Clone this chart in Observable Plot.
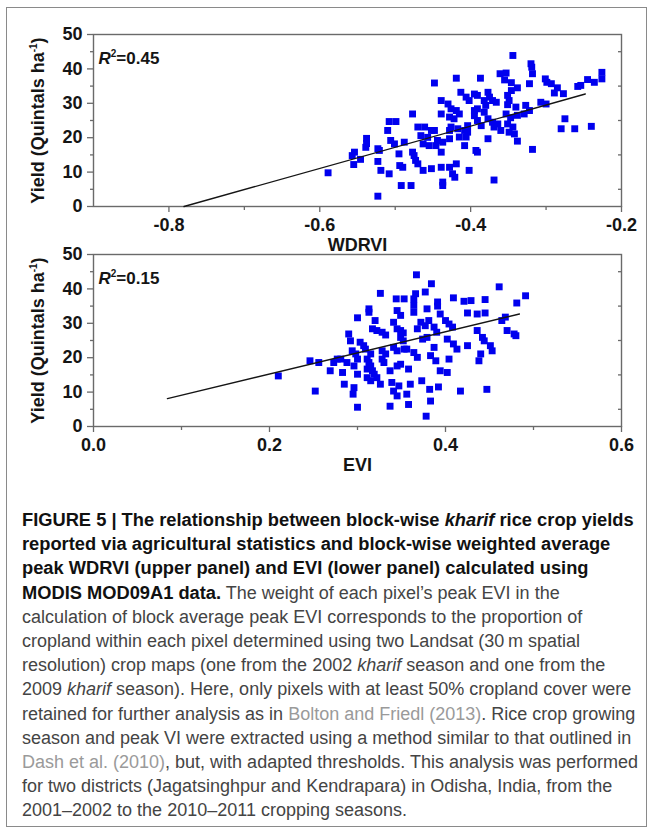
<!DOCTYPE html>
<html>
<head>
<meta charset="utf-8">
<script src="https://cdn.jsdelivr.net/npm/d3@7"></script>
<script src="https://cdn.jsdelivr.net/npm/@observablehq/plot@0.6"></script>
<style>
  html, body { margin: 0; padding: 0; background: #fff; }
  #page { position: relative; width: 655px; height: 833px; overflow: hidden; }
  #frame { position: absolute; left: 6px; top: 7px; width: 641px; height: 820px; border: 1.5px solid #8a8a8a; box-sizing: border-box; }
  .panel { position: absolute; left: 0; }
  #p1 { top: 0; }
  #p2 { top: 220px; }
  #cap { position: absolute; left: 22px; top: 508px; font-family: "Liberation Sans", Arial, sans-serif; font-size: 18px; line-height: 24.2px; color: #444; white-space: nowrap; }
  #cap b { color: #111; font-size: 18.3px; }
  #cap .lk { color: #9a9a9a; }
</style>
</head>
<body>
<div id="page">
  <div id="frame"></div>
  <div id="p1" class="panel"></div>
  <div id="p2" class="panel"></div>
  <div id="cap"><b>FIGURE 5 | The relationship between block-wise <i>kharif</i> rice crop yields<br>reported via agricultural statistics and block-wise weighted average<br>peak WDRVI (upper panel) and EVI (lower panel) calculated using<br>MODIS MOD09A1 data.</b> The weight of each pixel’s peak EVI in the<br>calculation of block average peak EVI corresponds to the proportion of<br>cropland within each pixel determined using two Landsat (30&#8201;m spatial<br>resolution) crop maps (one from the 2002 <i>kharif</i> season and one from the<br>2009 <i>kharif</i> season). Here, only pixels with at least 50% cropland cover were<br>retained for further analysis as in <span class="lk">Bolton and Friedl (2013)</span>. Rice crop growing<br>season and peak VI were extracted using a method similar to that outlined in<br><span class="lk">Dash et al. (2010)</span>, but, with adapted thresholds. This analysis was performed<br>for two districts (Jagatsinghpur and Kendrapara) in Odisha, India, from the<br>2001–2002 to the 2010–2011 cropping seasons.</div>
</div>
<script>
// ---- Upper panel: WDRVI vs yield ----
const wdrvi = [-0.589,-0.557,-0.555,-0.546,-0.554,-0.538,-0.538,-0.539,-0.523,-0.521,-0.523,-0.523,-0.519,-0.508,-0.508,-0.499,-0.510,-0.506,-0.501,-0.495,-0.494,-0.490,-0.492,-0.488,-0.479,-0.477,-0.477,-0.475,-0.473,-0.470,-0.470,-0.466,-0.463,-0.463,-0.461,-0.457,-0.455,-0.452,-0.452,-0.448,-0.448,-0.446,-0.444,-0.439,-0.439,-0.439,-0.439,-0.437,-0.437,-0.437,-0.430,-0.428,-0.428,-0.428,-0.428,-0.426,-0.426,-0.424,-0.422,-0.421,-0.419,-0.419,-0.419,-0.417,-0.415,-0.415,-0.413,-0.408,-0.408,-0.406,-0.406,-0.404,-0.404,-0.402,-0.402,-0.395,-0.395,-0.395,-0.393,-0.391,-0.391,-0.391,-0.391,-0.387,-0.386,-0.382,-0.382,-0.380,-0.377,-0.377,-0.377,-0.375,-0.371,-0.371,-0.369,-0.369,-0.366,-0.364,-0.361,-0.360,-0.355,-0.353,-0.353,-0.351,-0.351,-0.351,-0.349,-0.349,-0.347,-0.346,-0.346,-0.344,-0.344,-0.342,-0.340,-0.338,-0.338,-0.338,-0.329,-0.327,-0.322,-0.322,-0.320,-0.319,-0.318,-0.318,-0.307,-0.301,-0.300,-0.299,-0.293,-0.289,-0.285,-0.280,-0.277,-0.275,-0.262,-0.258,-0.254,-0.245,-0.240,-0.236,-0.226,-0.226];
const yieldWdrvi = [9.8,14.8,12.2,13.7,15.8,19.8,18.3,17.2,16.8,16.3,13.1,3.0,10.5,9.5,24.7,24.7,22.1,19.2,18.2,15.3,11.9,11.4,6.1,18.7,6.1,26.9,15.8,14.8,13.4,12.4,23.1,20.6,18.2,10.5,23.1,20.1,17.7,22.1,11.0,22.1,35.9,17.7,19.2,30.8,26.9,15.8,11.4,18.7,7.1,6.1,29.8,26.0,22.1,19.7,11.4,28.4,23.1,9.5,25.5,8.5,37.3,27.9,12.4,22.6,26.9,20.2,33.2,22.1,17.7,31.8,20.2,23.5,21.6,30.8,10.5,32.7,27.9,26.4,16.3,32.3,28.4,25.0,15.8,37.3,23.5,30.8,27.4,29.4,33.2,25.5,19.7,31.8,30.8,24.5,23.1,7.7,30.3,24.0,38.6,22.1,36.8,38.8,26.9,32.3,29.6,24.0,30.8,21.6,25.8,36.0,33.7,43.9,23.1,21.1,28.9,34.5,26.5,19.0,26.9,29.4,35.7,27.9,41.5,40.5,38.6,16.6,30.3,37.1,29.8,36.1,35.7,33.0,34.5,22.6,32.8,25.5,22.6,34.9,35.2,36.9,23.3,36.1,39.0,37.1];
const fitWdrviX = [-0.78, -0.248];
const fitWdrviY = [0, 32.7];

// ---- Lower panel: EVI vs yield ----
const evi = [0.367,0.384,0.461,0.326,0.344,0.353,0.366,0.364,0.377,0.409,0.421,0.429,0.445,0.481,0.313,0.313,0.300,0.345,0.349,0.364,0.364,0.379,0.391,0.391,0.394,0.425,0.436,0.445,0.464,0.468,0.470,0.478,0.320,0.317,0.322,0.328,0.332,0.290,0.292,0.341,0.345,0.349,0.352,0.349,0.352,0.368,0.372,0.377,0.381,0.374,0.379,0.387,0.390,0.400,0.404,0.408,0.402,0.409,0.413,0.425,0.436,0.442,0.444,0.451,0.453,0.440,0.438,0.447,0.417,0.404,0.387,0.383,0.394,0.402,0.389,0.392,0.382,0.383,0.378,0.373,0.360,0.356,0.358,0.347,0.341,0.345,0.337,0.339,0.337,0.345,0.349,0.358,0.353,0.356,0.364,0.368,0.341,0.345,0.328,0.332,0.328,0.330,0.311,0.313,0.315,0.311,0.317,0.319,0.311,0.315,0.322,0.326,0.309,0.315,0.298,0.300,0.294,0.288,0.296,0.300,0.285,0.296,0.295,0.300,0.283,0.269,0.273,0.277,0.281,0.246,0.256,0.252,0.210,0.303,0.307,0.491,0.480];
const yieldEvi = [44.1,41.5,40.6,38.7,37.1,37.1,38.6,37.1,39.1,37.4,36.4,36.6,36.9,35.9,34.2,33.2,31.6,33.7,32.3,35.2,33.2,34.2,36.2,35.0,32.7,33.0,32.7,33.0,30.8,31.8,27.9,26.9,30.8,28.4,27.9,27.4,26.6,26.9,24.9,30.3,28.4,27.9,27.2,25.9,24.9,28.4,30.3,29.3,30.8,25.4,25.9,28.9,27.4,30.8,29.8,28.9,25.4,24.0,22.5,23.5,27.9,25.9,24.9,23.5,22.0,21.1,19.1,10.8,10.3,19.6,23.0,20.6,16.2,15.7,19.1,11.5,10.8,7.4,3.0,13.3,12.3,9.4,6.4,11.8,10.3,8.9,5.9,12.8,16.2,17.6,18.1,16.7,22.5,22.5,21.5,20.1,23.0,22.0,22.0,21.1,19.6,18.6,19.6,18.6,17.6,16.7,16.2,15.2,14.2,13.3,14.2,12.3,22.5,21.1,21.1,19.6,22.0,18.6,17.6,15.2,12.3,11.3,9.4,5.6,15.7,16.2,18.6,19.6,19.6,19.1,18.6,10.3,14.7,24.5,23.5,38.0,26.4];
const fitEviX = [0.084, 0.484];
const fitEviY = [8.1, 32.7];

// ---- Axes ----
const yTicks = [0, 10, 20, 30, 40, 50];
const yMinor = [5, 15, 25, 35, 45];
const xTicksWdrvi = [-0.8, -0.6, -0.4, -0.2];
const xMinorWdrvi = [-0.7, -0.5, -0.3];
const xTicksEvi = [0.0, 0.2, 0.4, 0.6];
const xMinorEvi = [0.1, 0.3, 0.5];
const yLabel = "Yield (Quintals ha-1)";

const axisColor = "#6a6a6a";

function panel({xs, ys, fitX, fitY, xDomain, xTicks, xMinor, xLabel, r2}) {
  const pts = xs.map((x, i) => ({x, y: ys[i]}));
  const fit = fitX.map((x, i) => ({x, y: fitY[i]}));
  const svg = Plot.plot({
    width: 655, height: 252,
    marginLeft: 93, marginRight: 34, marginTop: 34, marginBottom: 46,
    style: {fontFamily: "Liberation Sans, Arial, sans-serif", fontSize: "18px", fontWeight: "bold", color: "#151515", background: "transparent", overflow: "visible"},
    x: {domain: xDomain},
    y: {domain: [0, 50]},
    marks: [
      Plot.frame({stroke: axisColor, strokeWidth: 1.4}),
      Plot.axisX({ticks: xTicks, tickFormat: d => d.toFixed(1), tickSize: 6, tickPadding: 6, stroke: axisColor, strokeWidth: 1.3, label: xLabel, labelAnchor: "center", labelArrow: "none", labelOffset: 44}),
      Plot.axisX({ticks: xMinor, tickFormat: () => "", tickSize: 4, stroke: axisColor, strokeWidth: 1.3, label: null}),
      Plot.axisY({ticks: yTicks, tickSize: 6, tickPadding: 5, stroke: axisColor, strokeWidth: 1.3, label: yLabel, labelAnchor: "center", labelArrow: "none", labelOffset: 62}),
      Plot.axisY({ticks: yMinor, tickFormat: () => "", tickSize: 3, stroke: axisColor, strokeWidth: 1.3, label: null}),
      Plot.axisY({anchor: "right", ticks: yMinor, tickFormat: () => "", tickSize: -4, stroke: axisColor, strokeWidth: 1.3, label: null}),
      Plot.dot(pts, {x: "x", y: "y", symbol: "square", r: 3.9, fill: "#0000ee", stroke: "none"}),
      Plot.line(fit, {x: "x", y: "y", stroke: "#151515", strokeWidth: 1.4}),
      Plot.text([r2], {text: d => d, frameAnchor: "top-left", textAnchor: "start", dx: 5, dy: 17, fontSize: 17, fontWeight: "bold"})
    ]
  });
  const NS = "http://www.w3.org/2000/svg";
  svg.querySelectorAll("text").forEach(t => {
    if (t.textContent === r2) {
      const val = r2.slice(2);
      t.textContent = "";
      const a = document.createElementNS(NS, "tspan"); a.setAttribute("font-style", "italic"); a.textContent = "R";
      const b = document.createElementNS(NS, "tspan"); b.setAttribute("font-size", "10"); b.setAttribute("dy", "-7"); b.textContent = "2";
      const c = document.createElementNS(NS, "tspan"); c.setAttribute("dy", "7"); c.textContent = val;
      t.append(a, b, c);
    } else if (t.textContent === yLabel) {
      t.textContent = "";
      const a = document.createElementNS(NS, "tspan"); a.textContent = "Yield (Quintals ha";
      const b = document.createElementNS(NS, "tspan"); b.setAttribute("font-size", "10"); b.setAttribute("dy", "-7"); b.textContent = "-1";
      const c = document.createElementNS(NS, "tspan"); c.setAttribute("dy", "7"); c.textContent = ")";
      t.append(a, b, c);
    }
  });
  return svg;
}

document.getElementById("p1").append(panel({
  xs: wdrvi, ys: yieldWdrvi, fitX: fitWdrviX, fitY: fitWdrviY,
  xDomain: [-0.9, -0.2], xTicks: xTicksWdrvi, xMinor: xMinorWdrvi, xLabel: "WDRVI", r2: "R2=0.45"
}));
document.getElementById("p2").append(panel({
  xs: evi, ys: yieldEvi, fitX: fitEviX, fitY: fitEviY,
  xDomain: [0, 0.6], xTicks: xTicksEvi, xMinor: xMinorEvi, xLabel: "EVI", r2: "R2=0.15"
}));
</script>
</body>
</html>
